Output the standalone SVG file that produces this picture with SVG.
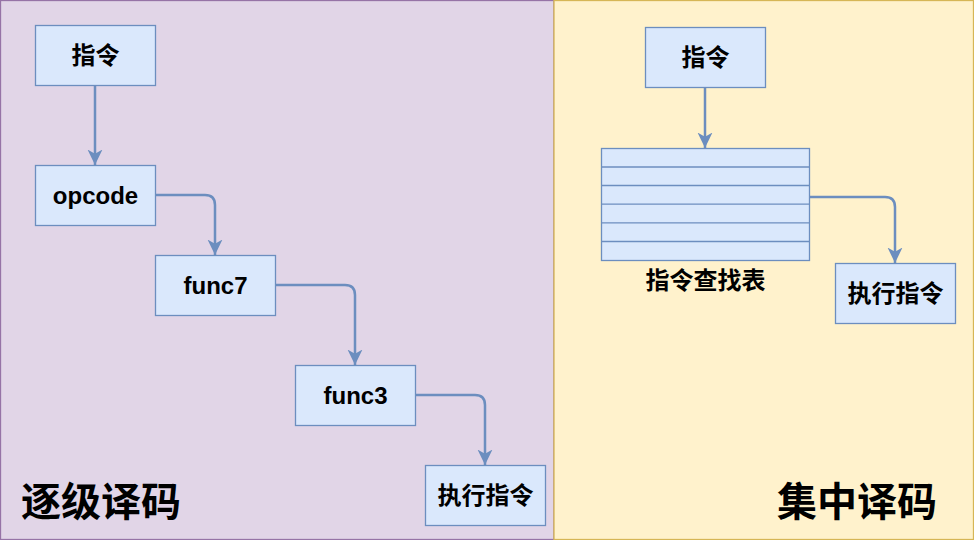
<svg xmlns="http://www.w3.org/2000/svg" width="974" height="540" viewBox="0 0 974 540">
<style>
.node{fill:#dae8fc;stroke:#6c8ebf;stroke-width:1.3}
.t{font-family:"Liberation Sans","Noto Sans CJK SC",sans-serif;font-weight:bold;font-size:24px;fill:#000;text-anchor:middle;dominant-baseline:central}
.big{font-size:40px}
.edge{fill:none;stroke:#6c8ebf;stroke-width:2.5}
.row{stroke:#6c8ebf;stroke-width:1.3}
</style>
<defs>
<marker id="arr" markerUnits="userSpaceOnUse" markerWidth="16" markerHeight="16" viewBox="0 0 15 14" refX="14.5" refY="7" orient="auto">
<path d="M0,0 L14.5,7 L0,14 L4,7 Z" fill="#6c8ebf"/>
</marker>
</defs>
<g id="panel-left"><rect x="0.5" y="0.5" width="553.5" height="539" fill="#e1d5e7" stroke="#9673a6" stroke-width="1.3"/></g>
<g id="panel-right"><rect x="554" y="0.5" width="419.5" height="539" fill="#fff2cc" stroke="#d6b656" stroke-width="1.3"/></g>
<g id="edges">
<path class="edge" d="M95,85.5 L95,165" marker-end="url(#arr)"/>
<path class="edge" d="M155.5,195 L205,195 Q215,195 215,205 L215,255" marker-end="url(#arr)"/>
<path class="edge" d="M275.5,285 L345,285 Q355,285 355,295 L355,365" marker-end="url(#arr)"/>
<path class="edge" d="M415.5,395 L475,395 Q485,395 485,405 L485,465" marker-end="url(#arr)"/>
<path class="edge" d="M705,87.5 L705,148" marker-end="url(#arr)"/>
<path class="edge" d="M809.5,197 L885,197 Q895,197 895,207 L895,263" marker-end="url(#arr)"/>
</g>
<g id="n-instr-l"><rect class="node" x="35.5" y="25.5" width="120" height="60"/><text class="t" x="95.5" y="55.5">指令</text></g>
<g id="n-opcode"><rect class="node" x="35.5" y="165.5" width="120" height="60"/><text class="t" x="95.5" y="195.5">opcode</text></g>
<g id="n-func7"><rect class="node" x="155.5" y="255.5" width="120" height="60"/><text class="t" x="215.5" y="285.5">func7</text></g>
<g id="n-func3"><rect class="node" x="295.5" y="365.5" width="120" height="60"/><text class="t" x="355.5" y="395.5">func3</text></g>
<g id="n-exec-l"><rect class="node" x="425.5" y="465.5" width="120" height="60"/><text class="t" x="485.5" y="495.5">执行指令</text></g>
<g id="n-instr-r"><rect class="node" x="645.5" y="27.5" width="120" height="60"/><text class="t" x="705.5" y="57.5">指令</text></g>
<g id="n-table">
<rect class="node" x="601.5" y="148.5" width="208" height="112"/>
<line class="row" x1="601.5" y1="167" x2="809.5" y2="167"/>
<line class="row" x1="601.5" y1="185.5" x2="809.5" y2="185.5"/>
<line class="row" x1="601.5" y1="204.2" x2="809.5" y2="204.2"/>
<line class="row" x1="601.5" y1="222.8" x2="809.5" y2="222.8"/>
<line class="row" x1="601.5" y1="241.5" x2="809.5" y2="241.5"/>
<text class="t" x="705.5" y="280.5">指令查找表</text>
</g>
<g id="n-exec-r"><rect class="node" x="835.5" y="263.5" width="120" height="60"/><text class="t" x="895.5" y="293.5">执行指令</text></g>
<g id="label-left"><text class="t big" x="101" y="502">逐级译码</text></g>
<g id="label-right"><text class="t big" x="857" y="502">集中译码</text></g>
</svg>
